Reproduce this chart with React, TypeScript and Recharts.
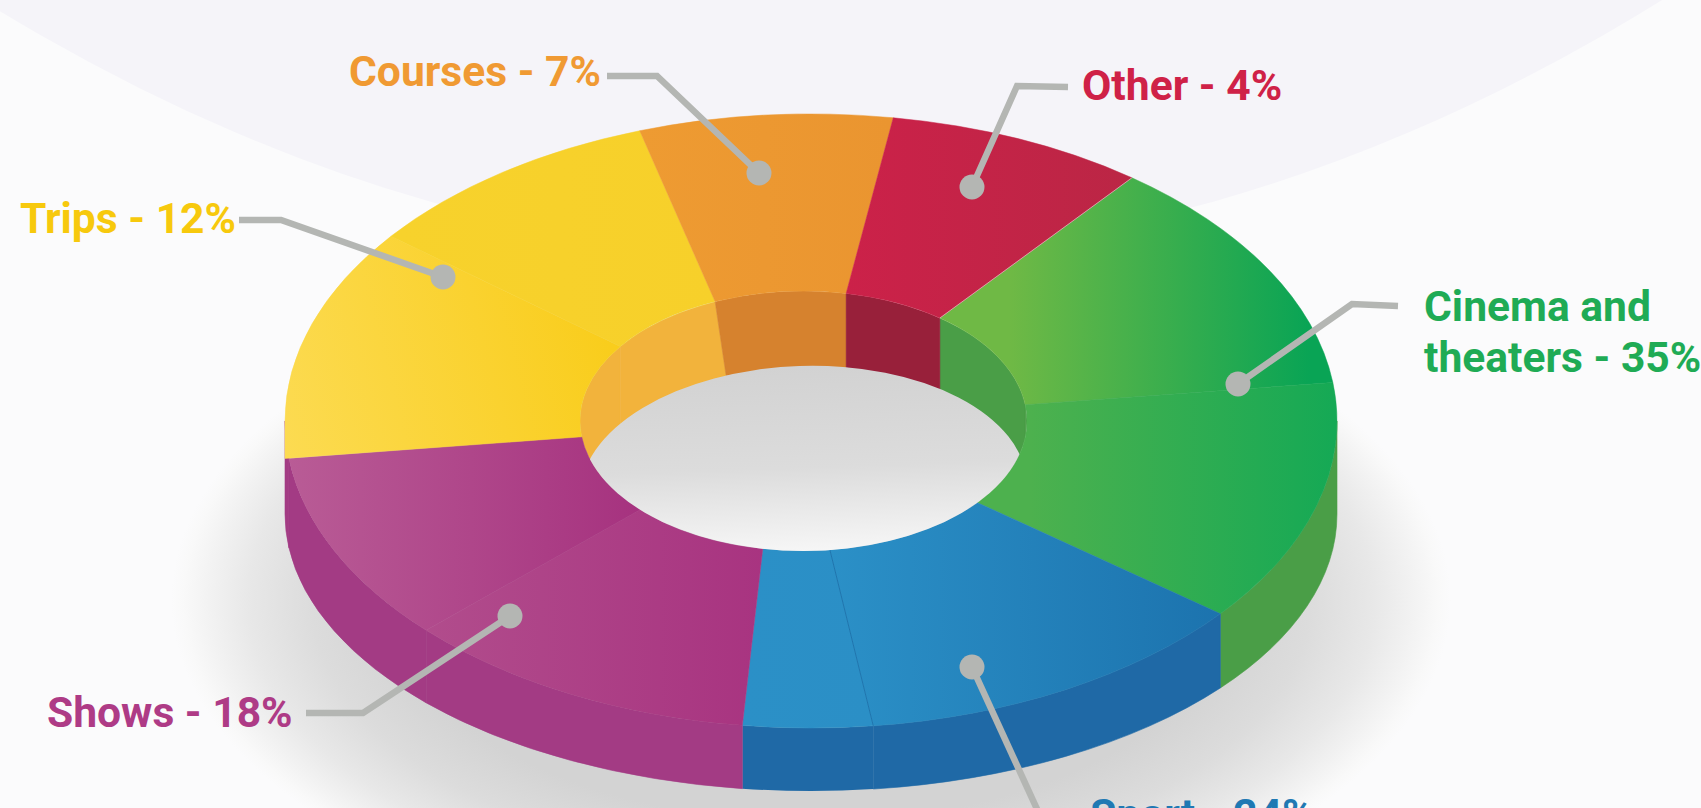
import React from 'react';
import { PieChart, Pie } from 'recharts';

const W = 1701;
const H = 808;

// The drawing's slices do not follow its printed percentages, so these are the
// angular spans (degrees), clockwise from Other/Cinema.
// Some colours have a fold in the artwork, which gives them two faces.
const sliceNames = ['Cinema upper', 'Cinema lower', 'Sports main', 'Sports small', 'Shows inner', 'Shows outer', 'Trips lower', 'Trips upper', 'Courses', 'Other'];
const sliceSpans = [45.2, 46.1, 44.3, 14.3, 39.5, 36, 44, 34, 28, 28.6];
// seams do not run quite straight to the hole: offset at each slice's start
const holeShift = [0, 0, 0, 0, -3, 0, 0, 2, 4.3, -2];

const labelNames = ['Cinema and', 'theaters', 'Sport', 'Shows', 'Trips', 'Courses', 'Other'];
const labelPercents = [35, 24, 18, 12, 7, 4];

const faceFrom = ['#6fb945', '#4db14e', '#2b90c7', '#2b90c7', '#b14c8c', '#b95c96', '#fcdb52', '#f7d22c', '#ee9b32', '#cc2149'];
const faceTo = ['#09a455', '#15a955', '#1c73ae', '#2b8fc6', '#a83380', '#a6327f', '#f9cd1c', '#f7d02a', '#ea9530', '#bb2645'];
const faceX1 = [1010, 1030, 830, 740, 430, 285, 285, 400, 640, 840];
const faceX2 = [1310, 1336, 1222, 875, 770, 640, 620, 720, 890, 1130];
const faceY1 = [0, 0, 0, 0, 0, 0, 470, 0, 0, 0];
const faceY2 = [0, 0, 0, 0, 0, 0, 380, 0, 0, 0];
const wallColors = ['#4a9e47', '#4a9e47', '#1f69a6', '#1f69a6', '#a33b84', '#a33b84', '#a33b84', '#a33b84', '#a33b84', '#a33b84'];
const holeColors = ['#4a9e47', '#4a9e47', '', '', '', '', '#f2b33c', '#f2b33c', '#d6822e', '#98203a'];

const chartData = sliceNames.map((name, i) => ({ name, value: sliceSpans[i] }));
const sliceIndex = (name: string) => sliceNames.indexOf(name);

// geometry of the tilted ring
const CX = 811;
const CY = 421;
const R_OUT = 526;
const R_IN = 223.5;
const SQUASH = 307 / 526;
const HOLE_DX = -7.5;
const HOLE_RY = 130;
const BASE_CY = 514;
const BASE_RY = 277;
const HOLE_DEPTH = 74;

const rad = (d: number) => (d * Math.PI) / 180;
const pt = (cx: number, cy: number, rx: number, ry: number, a: number) =>
    `${cx + rx * Math.cos(rad(a))} ${cy - ry * Math.sin(rad(a))}`;
const arc = (rx: number, ry: number, to: string, sweep: number) => `A ${rx} ${ry} 0 0 ${sweep} ${to}`;

const holeAngles = (name: string, a: number, b: number) => {
    const i = sliceIndex(name);
    return [a + holeShift[i], b + holeShift[(i + 1) % holeShift.length]];
};

const TopFace = (props: any) => {
    const { startAngle: a, endAngle: b, name, cx, cy, outerRadius, innerRadius } = props;
    const ry = outerRadius * SQUASH;
    const hx = cx + HOLE_DX;
    const [ha, hb] = holeAngles(name, a, b);
    const i = sliceIndex(name);
    // the yellow comes down straight at the far left, a little past the ellipse
    const start = name === 'Trips lower'
        ? `M ${cx - outerRadius} ${cy - ry * Math.sin(rad(a))} L ${pt(cx, cy, outerRadius, ry, -180)}`
        : `M ${pt(cx, cy, outerRadius, ry, a)}`;
    const d = [
        start,
        arc(outerRadius, ry, pt(cx, cy, outerRadius, ry, b), 1),
        `L ${pt(hx, cy, innerRadius, HOLE_RY, hb)}`,
        arc(innerRadius, HOLE_RY, pt(hx, cy, innerRadius, HOLE_RY, ha), 0),
        'Z',
    ].join(' ');
    return (
        <g>
            <path d={d} fill={`url(#face-${i})`} stroke={`url(#face-${i})`} strokeWidth={0.5} />
            {name === 'Sports small' && (
                <path d={`M ${pt(cx, cy, outerRadius, ry, a)} L ${pt(hx, cy, innerRadius, HOLE_RY, ha)}`} stroke="#1f75ae" strokeWidth={1} />
            )}
            {name === 'Other' && (
                <path d={`M ${pt(cx, cy, outerRadius, ry, b)} L ${pt(hx, cy, innerRadius, HOLE_RY, hb)}`} stroke="#ffffff" strokeOpacity={0.6} strokeWidth={0.8} />
            )}
        </g>
    );
};

const OuterWall = (props: any) => {
    const { startAngle, endAngle, name, cx, cy, outerRadius } = props;
    // only the front half of the ring shows its side
    const a = startAngle > 0 ? 0 : startAngle;
    const b = Math.max(endAngle, -180);
    if (a <= b) return <g />;
    const ry = outerRadius * SQUASH;
    const color = wallColors[sliceIndex(name)];
    const d = [
        `M ${pt(cx, cy, outerRadius, ry, a)}`,
        arc(outerRadius, ry, pt(cx, cy, outerRadius, ry, b), 1),
        `L ${pt(cx, BASE_CY, outerRadius, BASE_RY, b)}`,
        arc(outerRadius, BASE_RY, pt(cx, BASE_CY, outerRadius, BASE_RY, a), 0),
        'Z',
    ].join(' ');
    return <path d={d} fill={color} stroke={color} strokeWidth={name === 'Sports small' ? 0 : 0.6} />;
};

const HoleWall = (props: any) => {
    const { startAngle, endAngle, name, cx, cy, innerRadius } = props;
    const color = holeColors[sliceIndex(name)];
    if (!color) return <g />;
    const [a, b] = holeAngles(name, startAngle, endAngle);
    const hx = cx + HOLE_DX;
    const norm = (deg: number) => (deg < -180 ? deg + 360 : deg);
    // the Trips/Courses seam leans a bit in the artwork
    const lean = (deg: number) => (norm(deg) > 100 && norm(deg) < 120 ? 11 : 0);
    // the Trips fold is not a visible seam, run it deeper so the wall stays whole
    const drop = (deg: number) => (norm(deg) > 135 && norm(deg) < 150 ? 24 : 0);
    const px = (deg: number) => hx + innerRadius * Math.cos(rad(deg));
    const py = (deg: number) => cy - HOLE_RY * Math.sin(rad(deg));
    const d = [
        `M ${px(a)} ${py(a)}`,
        arc(innerRadius, HOLE_RY, `${px(b)} ${py(b)}`, 1),
        `L ${px(b) + lean(b)} ${py(b) + HOLE_DEPTH + drop(b)}`,
        `L ${px(a) + lean(a)} ${py(a) + HOLE_DEPTH + drop(a)}`,
        'Z',
    ].join(' ');
    return <path d={d} fill={color} stroke={color} strokeWidth={0.5} clipPath="url(#holeClip)" />;
};

const LEAD = '#b4b6b3';

const Callout = ({ points, dot }: { points: string; dot: [number, number] }) => (
    <g>
        <polyline points={points} fill="none" stroke={LEAD} strokeWidth={6.5} />
        <circle cx={dot[0]} cy={dot[1]} r={12.5} fill={LEAD} />
    </g>
);

const layer: React.CSSProperties = { position: 'absolute', left: 0, top: 0 };
const labelFont = { fontFamily: 'Roboto', fontWeight: 700, fontSize: 42.6 };

export default function App() {
    return (
        <div style={{ position: 'absolute', left: 0, top: 0, width: W, height: H, overflow: 'hidden', background: '#fbfbfc' }}>
            <svg width={W} height={H} style={layer}>
                <defs>
                    {sliceNames.map((n, i) => (
                        <linearGradient key={n} id={`face-${i}`} gradientUnits="userSpaceOnUse" x1={faceX1[i]} y1={faceY1[i]} x2={faceX2[i]} y2={faceY2[i]}>
                            <stop offset="0" stopColor={faceFrom[i]} />
                            <stop offset="1" stopColor={faceTo[i]} />
                        </linearGradient>
                    ))}
                    <radialGradient id="shadow">
                        <stop offset="0" stopColor="#d3d3d3" />
                        <stop offset="0.65" stopColor="#d3d3d3" />
                        <stop offset="0.78" stopColor="#dcdcdc" />
                        <stop offset="0.88" stopColor="#e8e8e8" />
                        <stop offset="0.94" stopColor="#f2f2f2" />
                        <stop offset="0.98" stopColor="#f9f9f9" />
                        <stop offset="1" stopColor="#fbfbfc" />
                    </radialGradient>
                    <linearGradient id="floor" gradientUnits="userSpaceOnUse" x1={0} y1={366} x2={0} y2={551}>
                        <stop offset="0" stopColor="#d2d2d2" />
                        <stop offset="0.55" stopColor="#dcdcdc" />
                        <stop offset="1" stopColor="#f6f6f6" />
                    </linearGradient>
                    <clipPath id="holeClip">
                        <ellipse cx={CX + HOLE_DX} cy={CY} rx={R_IN} ry={HOLE_RY} />
                    </clipPath>
                </defs>
                <ellipse cx={822} cy={257 - 11520} rx={4000} ry={11520} fill="#f5f4f9" />
                <ellipse cx={811} cy={600} rx={640} ry={340} fill="url(#shadow)" />
            </svg>

            <div style={layer}>
                <PieChart width={W} height={H} margin={{ top: 0, right: 0, bottom: 0, left: 0 }}>
                    <Pie data={chartData} dataKey="value" nameKey="name" cx={CX} cy={CY} innerRadius={R_IN} outerRadius={R_OUT} startAngle={52.4} endAngle={-307.6} stroke="none" shape={OuterWall} isAnimationActive={false} />
                    <Pie data={chartData} dataKey="value" nameKey="name" cx={CX} cy={CY} innerRadius={R_IN} outerRadius={R_OUT} startAngle={52.4} endAngle={-307.6} stroke="none" shape={HoleWall} isAnimationActive={false} />
                    <Pie data={chartData} dataKey="value" nameKey="name" cx={CX} cy={CY} innerRadius={R_IN} outerRadius={R_OUT} startAngle={52.4} endAngle={-307.6} stroke="none" shape={TopFace} isAnimationActive={false} />
                </PieChart>
            </div>

            <svg width={W} height={H} style={{ ...layer, pointerEvents: 'none' }}>
                <g clipPath="url(#holeClip)">
                    <ellipse cx={CX + HOLE_DX} cy={491} rx={R_IN} ry={125} transform={`rotate(-1.9 ${CX + HOLE_DX} 491)`} fill="url(#floor)" />
                </g>
                <Callout points="1398,306 1352,304 1238,384" dot={[1238, 384]} />
                <Callout points="972,667 1042,820" dot={[972, 667]} />
                <Callout points="306,713 363,713 510,616" dot={[510, 616]} />
                <Callout points="239,220 281,220 443,277" dot={[443, 277]} />
                <Callout points="607,76 657,76 759,173" dot={[759, 173]} />
                <Callout points="1068,87 1017,86 972,187" dot={[972, 187]} />
                <g style={labelFont}>
                    <text x={1424} y={321} fill="#1fab55">{labelNames[0]}</text>
                    <text x={1424} y={372} fill="#1fab55">{`${labelNames[1]} - ${labelPercents[0]}%`}</text>
                    <text x={1090} y={829} fill="#1f79b3">{`${labelNames[2]} - ${labelPercents[1]}%`}</text>
                    <text x={47} y={727} fill="#ae3b86">{`${labelNames[3]} - ${labelPercents[2]}%`}</text>
                    <text x={20} y={233} fill="#f7c90d">{`${labelNames[4]} - ${labelPercents[3]}%`}</text>
                    <text x={349} y={86} fill="#f09a33">{`${labelNames[5]} - ${labelPercents[4]}%`}</text>
                    <text x={1082} y={100} fill="#cf2147">{`${labelNames[6]} - ${labelPercents[5]}%`}</text>
                </g>
            </svg>
        </div>
    );
}
